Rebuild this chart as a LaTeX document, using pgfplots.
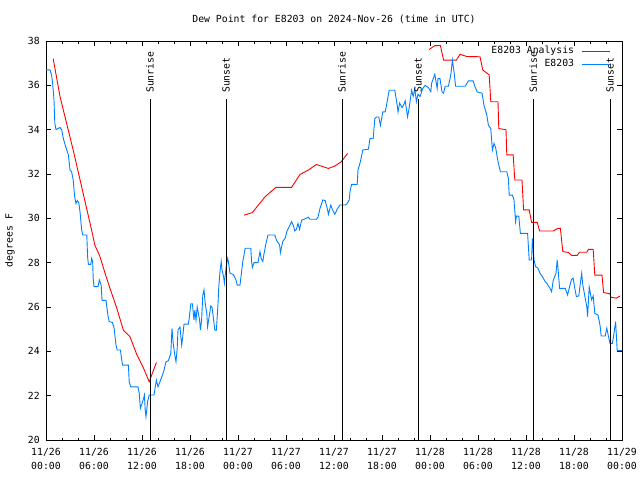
\documentclass[border=0pt]{standalone}
\usepackage{fontspec}
\setmainfont{DejaVu Sans Mono}
\usepackage{pgfplots}
\pgfplotsset{compat=1.18}
\definecolor{myblue}{RGB}{0,128,255}
\definecolor{myred}{RGB}{255,0,0}
\newcommand{\gf}{\fontsize{9.8}{14}\selectfont}
\begin{document}
\gf
\begin{tikzpicture}[x=1pt,y=1pt]
\path[use as bounding box] (-46,-40) rectangle (594,440);
\begin{axis}[
  name=ax,
  at={(0,0)}, anchor=south west,
  scale only axis, width=576pt, height=399pt,
  xmin=0, xmax=72, ymin=20, ymax=38,
  xtick={0,6,...,72}, minor x tick num=2,
  ytick={20,22,...,38},
  xticklabels={{11/26\\00:00},{11/26\\06:00},{11/26\\12:00},{11/26\\18:00},{11/27\\00:00},{11/27\\06:00},{11/27\\12:00},{11/27\\18:00},{11/28\\00:00},{11/28\\06:00},{11/28\\12:00},{11/28\\18:00},{11/29\\00:00}},
  xticklabel style={align=center, font=\gf, inner sep=0pt, yshift=-8pt},
  yticklabel style={font=\gf, inner sep=0pt, xshift=-6pt},
  /pgf/number format/assume math mode=true,
  tick align=inside,
  major tick length=5pt, minor tick length=2.5pt,
  tick style={black, line width=0.8pt},
  axis line style={black, line width=0.8pt},
  no markers,
  unbounded coords=jump,
  legend plot pos=right,
  legend cell align=right,
  legend image code/.code={\path (0pt,0pt); \draw[#1] (7pt,0pt) -- (35pt,0pt);},
  legend style={draw=none, fill=none, at={(1,1)}, anchor=north east,
    xshift=-12pt, yshift=-6pt, inner sep=0pt, outer sep=0pt, font=\gf,
    row sep=3.5pt,
    nodes={inner sep=0pt, text height=7pt, text depth=2pt}},
]
\addplot[myred, line width=0.9pt] coordinates {
(0.9,37.2) (1.75,35.5) (3.4,33.08) (5.7,29.47) (6.1,28.8) (6.75,28.27) (7.4,27.5)
(8.0,26.84) (8.8,26.0) (9.67,24.96) (10.5,24.66) (11.3,23.9) (12.2,23.23) (12.9,22.63) (13.8,23.5)
(20,nan)
(24.75,30.14) (25.8,30.26) (27.4,30.98) (28.75,31.4) (30.7,31.4) (31.75,31.98) (32.8,32.18)
(33.8,32.43) (35.3,32.25) (36.1,32.36) (36.9,32.55) (37.7,32.93)
(42,nan)
(47.9,37.62) (48.6,37.79) (49.3,37.79) (49.7,37.14) (51.3,37.14) (51.75,37.4) (52.6,37.3)
(54.25,37.29) (54.6,36.69) (55.4,36.47) (55.6,35.26) (56.5,35.26) (56.6,34.05) (57.5,34.0)
(57.6,32.86) (58.4,32.86) (58.6,31.73) (59.5,31.73) (59.7,30.38) (60.4,30.38) (60.7,29.82)
(61.4,29.82) (61.7,29.43) (63.4,29.43) (64.0,29.55) (64.3,29.55) (64.6,28.5) (65.3,28.46)
(65.7,28.33) (66.4,28.33) (66.7,28.47) (67.6,28.47) (67.8,28.6) (68.4,28.6) (68.6,27.44)
(69.5,27.44) (69.7,26.65) (70.5,26.6) (70.6,26.44) (71.3,26.4) (71.75,26.5)
};
\addlegendentry{E8203 Analysis}
\addplot[myblue, line width=0.9pt] coordinates {
(0.0,36.7) (0.5,36.7) (0.7,36.46) (0.83,36.09) (1.0,35.34) (1.1,34.3) (1.25,34.0) (1.75,34.1)
(1.96,34.0) (2.17,33.6) (2.4,33.3) (2.8,32.86) (3.0,32.18) (3.2,32.1) (3.4,31.73) (3.58,30.98)
(3.75,30.67) (3.9,30.8) (4.1,30.7) (4.25,30.3) (4.46,29.47) (4.6,29.25) (5.1,29.25) (5.2,28.27)
(5.3,27.92) (5.6,27.92) (5.7,28.19) (5.83,28.05) (5.9,27.29) (6.0,26.92) (6.5,26.92) (6.67,27.22)
(6.9,26.99) (7.0,26.3) (7.5,26.3) (7.75,25.6) (7.9,25.34) (8.3,25.3) (8.5,25.08) (8.75,24.29)
(8.9,24.06) (9.3,24.06) (9.5,23.53) (9.58,23.38) (10.3,23.38) (10.4,22.63) (10.6,22.4) (11.5,22.4)
(11.66,22.1) (11.75,21.65) (11.8,21.43) (12.0,21.65) (12.2,21.88) (12.3,22.03) (12.4,21.35)
(12.5,21.05) (12.7,21.73) (12.9,22.03) (13.5,22.03) (13.6,22.26) (13.8,22.7) (14.0,22.4)
(14.25,22.63) (14.7,23.08) (15.0,23.53) (15.3,23.58) (15.6,23.9) (15.75,25.03) (15.9,24.36)
(16.1,23.83) (16.25,23.53) (16.4,24.13) (16.5,24.96) (16.75,25.1) (16.96,24.29) (17.1,24.67)
(17.25,25.23) (17.8,25.23) (17.9,25.49) (18.1,26.14) (18.3,26.14) (18.5,25.41) (18.6,25.86)
(18.75,25.41) (18.9,26.0) (19.2,25.41) (19.3,24.96) (19.45,25.41) (19.6,26.54) (19.75,26.77)
(19.9,26.17) (20.1,25.71) (20.2,25.1) (20.4,25.57) (20.6,26.05) (20.75,26.0) (20.9,25.57)
(21.1,24.96) (21.3,24.96) (21.5,26.14) (21.6,26.92) (21.75,27.6) (21.9,28.05) (22.0,27.67)
(22.2,27.37) (22.3,27.07) (22.5,27.75) (22.7,28.19) (22.8,28.05) (23.0,27.52) (23.4,27.47)
(23.75,27.22) (23.9,26.99) (24.25,26.99) (24.6,28.05) (24.9,28.65) (25.6,28.65) (25.7,28.05)
(25.8,27.78) (26.0,28.0) (26.5,28.0) (26.75,28.5) (26.9,28.19) (27.1,28.05) (27.25,28.4)
(27.5,28.87) (27.75,29.25) (28.6,29.25) (28.8,29.02) (29.2,28.8) (29.3,28.45) (29.6,28.96)
(29.9,29.1) (30.1,29.4) (30.4,29.62) (30.7,29.85) (30.9,29.7) (31.1,29.43) (31.3,29.5)
(31.5,29.77) (31.7,29.5) (31.96,29.92) (32.2,29.95) (32.8,30.05) (33.0,29.96) (33.8,29.96)
(34.0,30.05) (34.25,30.45) (34.6,30.83) (34.9,30.8) (35.2,30.38) (35.3,30.18) (35.6,30.6)
(35.8,30.4) (36.1,30.18) (36.4,30.41) (36.75,30.6) (37.4,30.6) (37.6,30.65) (37.9,30.83)
(38.0,31.2) (38.2,31.53) (38.9,31.53) (39.0,32.18) (39.3,32.56) (39.6,33.08) (40.3,33.12)
(40.5,33.6) (40.9,33.6) (41.1,34.5) (41.3,34.57) (41.6,34.57) (41.8,34.2) (42.1,34.8) (42.4,34.8)
(42.6,35.18) (42.9,35.78) (43.6,35.78) (43.9,35.1) (44.0,34.8) (44.2,35.2) (44.5,35.0)
(44.75,35.15) (44.9,35.3) (45.2,34.58) (45.4,35.0) (45.7,35.78) (45.9,35.5) (46.1,35.86)
(46.3,35.26) (46.5,35.6) (46.75,35.49) (47.1,35.86) (47.4,36.0) (47.8,35.9) (48.1,35.71)
(48.2,36.09) (48.6,36.5) (48.9,35.86) (49.0,36.3) (49.25,36.3) (49.5,35.71) (49.7,35.65)
(49.9,35.96) (50.3,35.96) (50.6,36.47) (50.8,37.14) (51.0,36.62) (51.2,35.96) (52.4,35.96)
(52.8,36.2) (53.4,36.2) (53.6,35.96) (53.9,35.7) (54.5,35.65) (54.75,35.1) (55.1,34.66)
(55.3,34.2) (55.6,34.05) (55.8,33.08) (56.0,33.38) (56.2,33.2) (56.5,32.57) (56.8,32.1)
(57.6,32.1) (57.8,31.8) (57.9,31.05) (58.3,31.05) (58.5,30.83) (58.7,29.85) (58.8,30.1)
(59.1,30.1) (59.3,29.32) (60.2,29.32) (60.3,28.73) (60.4,28.12) (60.7,28.12) (60.8,29.1)
(61.0,28.12) (61.2,27.82) (61.5,27.75) (61.75,27.52) (62.1,27.34) (62.4,27.14) (62.6,27.07)
(63.0,26.84) (63.2,26.69) (63.4,27.2) (63.75,27.52) (63.9,28.12) (64.0,27.75) (64.2,26.84)
(64.9,26.84) (65.2,26.54) (65.5,26.99) (65.7,27.25) (65.9,27.3) (66.1,26.84) (66.3,26.47)
(66.6,26.5) (66.75,26.95) (66.96,27.52) (67.1,27.0) (67.4,26.4) (67.6,26.02) (67.7,25.57)
(67.9,26.9) (68.2,26.32) (68.4,26.5) (68.6,25.71) (69.0,25.64) (69.25,25.19) (69.4,24.69)
(69.9,24.69) (70.1,25.04) (70.3,24.69) (70.5,24.36) (70.8,24.36) (71.0,24.81) (71.2,25.34)
(71.3,24.7) (71.4,24.03) (72.0,24.03)
};
\addlegendentry{E8203}
\addplot[black, line width=0.8pt, forget plot] coordinates {(13,20) (13,35.4)};
\addplot[black, line width=0.8pt, forget plot] coordinates {(22.5,20) (22.5,35.4)};
\addplot[black, line width=0.8pt, forget plot] coordinates {(37,20) (37,35.4)};
\addplot[black, line width=0.8pt, forget plot] coordinates {(46.5,20) (46.5,35.4)};
\addplot[black, line width=0.8pt, forget plot] coordinates {(60.9,20) (60.9,35.4)};
\addplot[black, line width=0.8pt, forget plot] coordinates {(70.5,20) (70.5,35.4)};
\node[rotate=90, anchor=west, inner sep=0pt, font=\gf] at (axis cs:13,35.65) {Sunrise};
\node[rotate=90, anchor=west, inner sep=0pt, font=\gf] at (axis cs:22.5,35.65) {Sunset};
\node[rotate=90, anchor=west, inner sep=0pt, font=\gf] at (axis cs:37,35.65) {Sunrise};
\node[rotate=90, anchor=west, inner sep=0pt, font=\gf] at (axis cs:46.5,35.65) {Sunset};
\node[rotate=90, anchor=west, inner sep=0pt, font=\gf] at (axis cs:60.9,35.65) {Sunrise};
\node[rotate=90, anchor=west, inner sep=0pt, font=\gf] at (axis cs:70.5,35.65) {Sunset};
\end{axis}
\node[font=\gf] at (288,421) {Dew Point for E8203 on 2024-Nov-26 (time in UTC)};
\node[font=\gf, rotate=90] at (-36,199.5) {degrees F};
\end{tikzpicture}
\end{document}
